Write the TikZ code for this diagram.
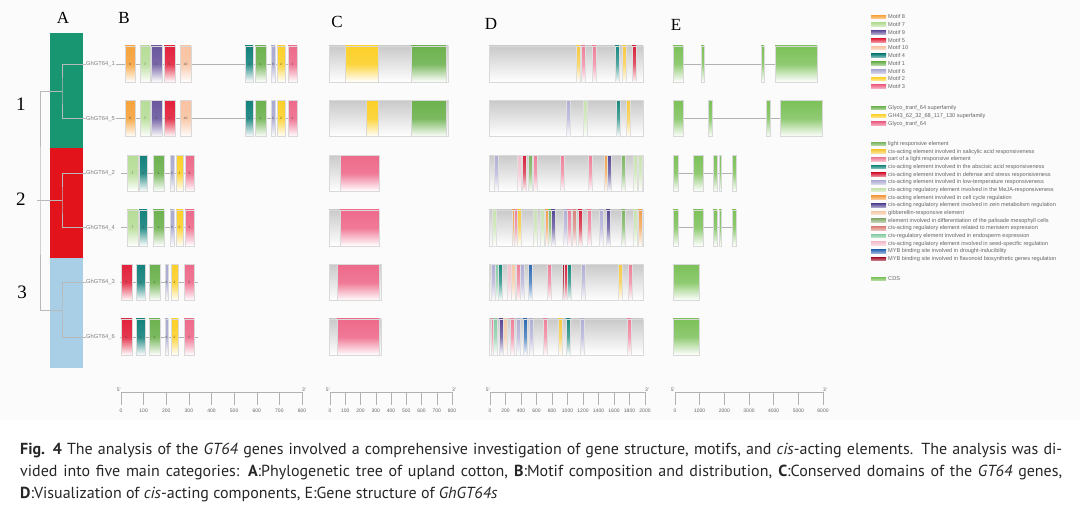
\documentclass[tikz,border=0pt]{standalone}
\usepackage{fontspec}
\setmainfont{Liberation Sans}
\newfontfamily\letterfont{Liberation Serif}
\newfontfamily\captionfont{PT Sans}

% clades
\definecolor{cladeA}{HTML}{189672}
\definecolor{cladeB}{HTML}{E3131B}
\definecolor{cladeC}{HTML}{A8CFE5}
% motifs
\definecolor{m1}{HTML}{6DB24F}
\definecolor{m2}{HTML}{FCD02A}
\definecolor{m3}{HTML}{EE6A8B}
\definecolor{m4}{HTML}{14827C}
\definecolor{m5}{HTML}{E2223C}
\definecolor{m6}{HTML}{AAA9D2}
\definecolor{m7}{HTML}{B7DD98}
\definecolor{m8}{HTML}{F6A33C}
\definecolor{m9}{HTML}{6A579E}
\definecolor{m10}{HTML}{F8C3A2}
% domains
\definecolor{domgreen}{HTML}{6DB24F}
\definecolor{domyellow}{HTML}{FCD02A}
\definecolor{dompink}{HTML}{EE6A8B}
% cis elements
\definecolor{lightresp}{HTML}{7BB661}
\definecolor{salicylic}{HTML}{F6C93F}
\definecolor{partlight}{HTML}{EE7F99}
\definecolor{abscisic}{HTML}{17887E}
\definecolor{defense}{HTML}{D7213B}
\definecolor{lowtemp}{HTML}{B0AED5}
\definecolor{meja}{HTML}{C7E3AE}
\definecolor{cellcycle}{HTML}{F3A04A}
\definecolor{zein}{HTML}{574795}
\definecolor{gibber}{HTML}{F5C8A6}
\definecolor{palisade}{HTML}{8EAF78}
\definecolor{meristem}{HTML}{D9847A}
\definecolor{endosperm}{HTML}{86CCA5}
\definecolor{seedspec}{HTML}{F3C0CD}
\definecolor{mybdrought}{HTML}{2E6BB4}
\definecolor{mybflav}{HTML}{A1172E}
\definecolor{cds}{HTML}{7CC159}

\begin{document}
\begin{tikzpicture}[x=1pt, y=-1pt,
    every node/.style={inner sep=0pt},
    panel/.style={font=\letterfont\fontsize{17}{17}\selectfont},
    clade/.style={font=\letterfont\fontsize{19}{19}\selectfont},
    gene/.style={font=\fontsize{5.8}{6}\selectfont, text=gray, anchor=west},
    treeline/.style={draw=gray!55, line width=0.6pt},
    backbone/.style={draw=gray!60, line width=0.7pt},
    motif/.style={draw=gray!30, line width=0.3pt, top color=#1, bottom color=white, middle color=#1!90},
    mnum/.style={font=\fontsize{3.2}{3.5}\selectfont, text=black!70},
    region/.style={draw=gray!30, line width=0.3pt, top color=gray!42, bottom color=white},
    dombox/.style={draw=gray!30, line width=0.3pt, top color=#1, bottom color=white, middle color=#1!90},
    cisbar/.style={draw=gray!25, line width=0.2pt, top color=#1, bottom color=white, middle color=#1!75},
    exon/.style={draw=gray!30, line width=0.3pt, top color=#1, bottom color=white, middle color=#1!85},
    ruler/.style={draw=gray!60, line width=0.5pt},
    scalelab/.style={font=\fontsize{5}{5}\selectfont, text=gray!80!black},
    swatch/.style={top color=#1, bottom color=#1!50},
    legtext/.style={font=\fontsize{5.6}{6}\selectfont, text=gray!80!black, anchor=west},
    captext/.style={font=\captionfont\fontsize{16}{18}\selectfont, text=black!85, anchor=base west},
  ]
  \useasboundingbox (0,0) rectangle (1080,505);
  \fill[gray!3] (0,0) rectangle (1080,420);

  % panel letters
  \node[panel] (lA) at (63,18) {A};
  \node[panel] (lB) at (124,18) {B};
  \node[panel] (lC) at (337,22) {C};
  \node[panel] (lD) at (491,24) {D};
  \node[panel] (lE) at (676,25) {E};

  % A: clades and tree
  \fill[cladeA] (50,33) rectangle (83,148);
  \fill[cladeB] (50,148) rectangle (83,258);
  \fill[cladeC] (50,258) rectangle (83,368);
  \node[clade] (n1) at (21,104) {1};
  \node[clade] (n2) at (21,199) {2};
  \node[clade] (n3) at (22,292) {3};
  \foreach \g/\y in {1/64, 5/118.6, 2/173.2, 4/227.8, 3/282.4, 6/337}
    \node[gene] (g\g) at (86,\y) {GhGT64\_\g};
  \coordinate (c1) at (62,91);
  \coordinate (c2) at (62,200);
  \coordinate (c3) at (62,310);
  \coordinate (root) at (40,200);
  \draw[treeline] (g1.west) -| (c1) |- (g5.west);
  \draw[treeline] (g2.west) -| (c2) |- (g4.west);
  \draw[treeline] (g3.west) -| (c3) |- (g6.west);
  \draw[treeline] (c1) -| (root) |- (c3);
  \draw[treeline] ([xshift=-3pt]root) -- (c2);

  % B: motifs
  \foreach \g/\y in {1/64, 5/118.6} {
    \draw[backbone] (116,\y) -- (297,\y);
    \foreach \a/\b/\c/\n in {125/135/m8/8, 140/150/m7/7, 151/162/m9/9, 164/175/m5/5, 180/191/m10/10,
        245/253/m4/4, 255/266/m1/1, 271/275/m6/6, 277/285/m2/2, 288/297/m3/3} {
      \draw[motif=\c] (\a,\y-18) rectangle (\b,\y+18);
      \node[mnum] (b\g-\n) at ({(\a+\b)/2},\y) {\n};
    }
  }
  \foreach \g/\y in {2/173.2, 4/227.8} {
    \draw[backbone] (121,\y) -- (195,\y);
    \foreach \a/\b/\c/\n in {127/138/m7/7, 139/147/m4/4, 153/164/m1/1, 170/174/m6/6, 176/183/m2/2, 185/194/m3/3} {
      \draw[motif=\c] (\a,\y-18) rectangle (\b,\y+18);
      \node[mnum] (b\g-\n) at ({(\a+\b)/2},\y) {\n};
    }
  }
  \foreach \g/\y in {3/282.4, 6/337} {
    \draw[backbone] (120,\y) -- (198,\y);
    \foreach \a/\b/\c/\n in {121/132/m5/5, 136/145/m4/4, 149/160/m1/1, 165/168/m6/6, 171/178/m2/2, 184/194/m3/3} {
      \draw[motif=\c] (\a,\y-18) rectangle (\b,\y+18);
      \node[mnum] (b\g-\n) at ({(\a+\b)/2},\y) {\n};
    }
  }

  % C: conserved domains
  \foreach \y/\ya in {64/345, 118.6/366} {
    \draw[region] (329,\y-18) rectangle (448,\y+18);
    \draw[dombox=domyellow] (\ya,\y-18) rectangle (378,\y+18);
    \draw[dombox=domgreen] (411,\y-18) rectangle (446,\y+18);
  }
  \foreach \y/\xa/\xb/\xe in {173.2/340/379/379, 227.8/340/379/379, 282.4/337/379/381, 337/337/379/381} {
    \draw[region] (329,\y-18) rectangle (\xe,\y+18);
    \draw[dombox=dompink] (\xa,\y-18) rectangle (\xb,\y+18);
  }

  % D: cis-acting elements
  \foreach \y in {64, 118.6, 173.2, 227.8, 282.4, 337}
    \draw[region] (489,\y-18) rectangle (643,\y+18);
  \foreach \s/\c in {576/salicylic, 581/partlight, 592/partlight, 615/abscisic, 622/salicylic, 632/defense}
    \draw[cisbar=\c] (\s,46) rectangle ++(4,36);
  \foreach \s/\c in {566/lowtemp, 583/meja, 616/abscisic, 626/salicylic}
    \draw[cisbar=\c] (\s,100.6) rectangle ++(4,36);
  \foreach \s/\c in {494/lowtemp, 517/seedspec, 522/defense, 528/lightresp, 533/partlight, 560/partlight,
      588/partlight, 604/cellcycle, 607/zein, 621/lightresp, 633/meja, 638/meja}
    \draw[cisbar=\c] (\s,155.2) rectangle ++(4,36);
  \foreach \s/\c in {492/meja, 512/cellcycle, 514/partlight, 517/salicylic, 533/meja, 540/meja, 545/cellcycle,
      548/lightresp, 551/zein, 563/lowtemp, 567/partlight, 572/meristem, 578/defense, 587/partlight,
      599/lowtemp, 606/zein, 621/lightresp, 633/meja, 638/cellcycle}
    \draw[cisbar=\c] (\s,209.8) rectangle ++(4,36);
  \foreach \s/\c in {491/lowtemp, 495/endosperm, 498/abscisic, 507/seedspec, 511/gibber, 516/partlight,
      520/lowtemp, 528/mybdrought, 547/partlight, 562/mybflav, 564/defense, 567/abscisic, 581/lowtemp,
      618/salicylic, 628/partlight}
    \draw[cisbar=\c] (\s,264.4) rectangle ++(4,36);
  \foreach \s/\c in {491/partlight, 493/endosperm, 499/zein, 503/gibber, 510/partlight, 516/lowtemp,
      523/mybdrought, 529/lowtemp, 543/partlight, 558/salicylic, 566/abscisic, 580/lowtemp, 627/partlight}
    \draw[cisbar=\c] (\s,319) rectangle ++(4,36);

  % E: gene structure
  \draw[backbone] (683,64) -- (775,64);
  \foreach \a/\b in {673/683, 701/704, 761/764, 775/817}
    \draw[exon=cds] (\a,46) rectangle (\b,82);
  \draw[backbone] (683,118.6) -- (780,118.6);
  \foreach \a/\b in {673/683, 708/712, 766/770, 780/822}
    \draw[exon=cds] (\a,100.6) rectangle (\b,136.6);
  \foreach \y in {173.2, 227.8} {
    \draw[backbone] (678,\y) -- (732,\y);
    \foreach \a/\b in {673/678, 693/703, 713/717, 719/721.5, 732/736}
      \draw[exon=cds] (\a,\y-18) rectangle (\b,\y+18);
  }
  \foreach \y in {282.4, 337}
    \draw[exon=cds] (673,\y-18) rectangle (699,\y+18);

  % scale bars
  \foreach \xa/\xb/\top/\st/\nm in {121/302/800/100/b, 330/452/800/100/c, 490/645/2000/200/d, 675/823/6000/1000/e} {
    \coordinate (\nm s) at (\xa,392);
    \coordinate (\nm e) at (\xb,392);
    \draw[ruler] (\nm s) -- (\nm e);
    \node[scalelab, anchor=south east] (\nm 5) at ([yshift=0.5pt]\nm s) {5'};
    \node[scalelab, anchor=south west] (\nm 3) at ([yshift=0.5pt]\nm e) {3'};
    \pgfmathtruncatemacro{\nd}{\top/\st}
    \foreach \k in {0,...,\nd} {
      \pgfmathtruncatemacro{\v}{\k*\st}
      \draw[ruler] ({\xa+(\xb-\xa)*\k/\nd},392) -- ++(0,13)
        node[scalelab, below=4pt] (\nm\k) {\v};
    }
  }

  % legend
  \foreach \c/\t [count=\i from 0] in {m8/Motif 8, m7/Motif 7, m9/Motif 9, m5/Motif 5, m10/Motif 10,
      m4/Motif 4, m1/Motif 1, m6/Motif 6, m2/Motif 2, m3/Motif 3} {
    \fill[swatch=\c] (871,17+7.75*\i-1.8) rectangle (886,17+7.75*\i+1.8);
    \node[legtext] (lm\i) at (888,17+7.75*\i) {\t};
  }
  \foreach \c/\t [count=\i from 0] in {domgreen/Glyco\_tranf\_64 superfamily,
      domyellow/GH43\_62\_32\_68\_117\_130 superfamily, dompink/Glyco\_tranf\_64} {
    \fill[swatch=\c] (871,108+7.9*\i-1.8) rectangle (886,108+7.9*\i+1.8);
    \node[legtext] (ld\i) at (888,108+7.9*\i) {\t};
  }
  \foreach \c/\t [count=\i from 0] in {lightresp/light responsive element,
      salicylic/cis-acting element involved in salicylic acid responsiveness,
      partlight/part of a light responsive element,
      abscisic/cis-acting element involved in the abscisic acid responsiveness,
      defense/cis-acting element involved in defense and stress responsiveness,
      lowtemp/cis-acting element involved in low-temperature responsiveness,
      meja/cis-acting regulatory element involved in the MeJA-responsiveness,
      cellcycle/cis-acting element involved in cell cycle regulation,
      zein/cis-acting regulatory element involved in zein metabolism regulation,
      gibber/gibberellin-responsive element,
      palisade/element involved in differentiation of the palisade mesophyll cells,
      meristem/cis-acting regulatory element related to meristem expression,
      endosperm/cis-regulatory element involved in endosperm expression,
      seedspec/cis-acting regulatory element involved in seed-specific regulation,
      mybdrought/MYB binding site involved in drought-inducibility,
      mybflav/MYB binding site involved in flavonoid biosynthetic genes regulation} {
    \fill[swatch=\c] (871,144+7.67*\i-1.8) rectangle (886,144+7.67*\i+1.8);
    \node[legtext] (lc\i) at (888,144+7.67*\i) {\t};
  }
  \fill[swatch=cds] (871,279-1.8) rectangle (886,279+1.8);
  \node[legtext] (lcds) at (888,279) {CDS};

  % caption
  \node[captext] (cap1) at (20,454) {\hbox to 1042pt{\textbf{Fig. 4} The analysis of the \textit{GT64} genes involved a comprehensive investigation of gene structure, motifs, and \textit{cis}-acting elements. The analysis was di-}};
  \node[captext] (cap2) at (20,476) {\hbox to 1042pt{vided into five main categories: \textbf{A}:Phylogenetic tree of upland cotton, \textbf{B}:Motif composition and distribution, \textbf{C}:Conserved domains of the \textit{GT64} genes,}};
  \node[captext] (cap3) at (20,498) {\textbf{D}:Visualization of \textit{cis}-acting components, E:Gene structure of \textit{GhGT64s}};
\end{tikzpicture}
\end{document}
